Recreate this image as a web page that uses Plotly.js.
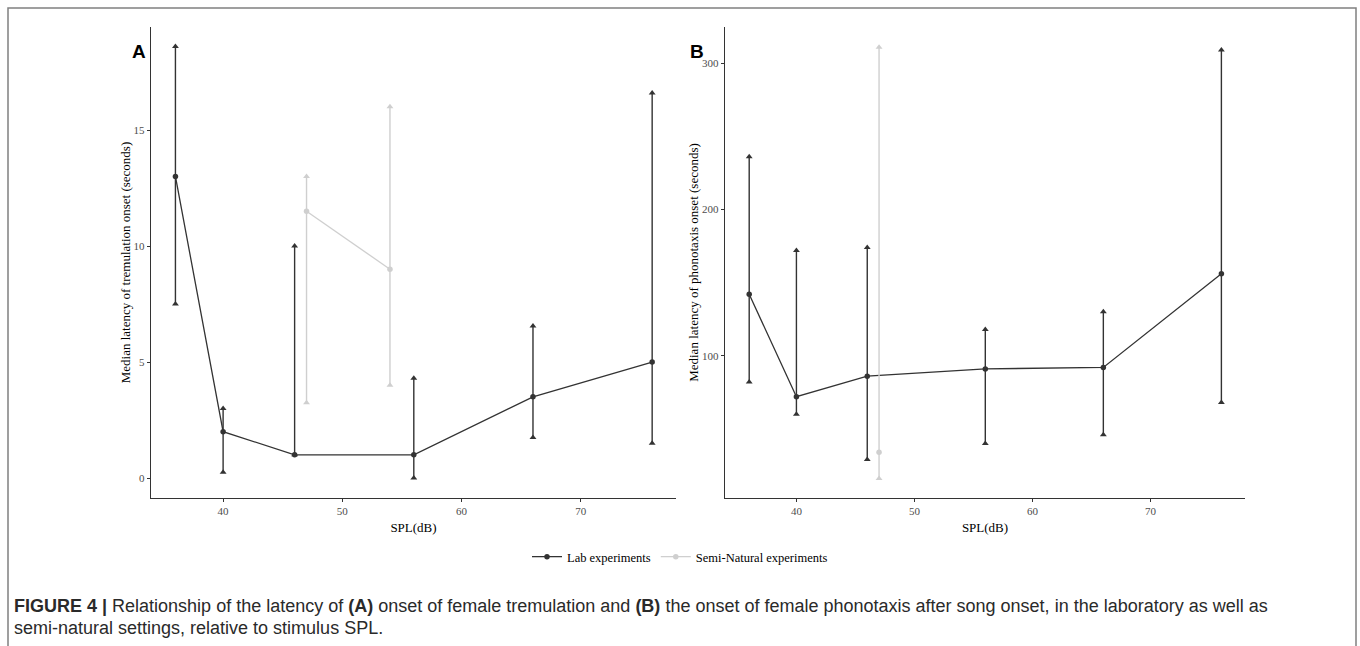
<!DOCTYPE html>
<html>
<head>
<meta charset="utf-8">
<script src="https://cdn.plot.ly/plotly-3.0.1.min.js"></script>
<style>
html,body{margin:0;padding:0;background:#fff;}
#chart{width:1360px;height:646px;}
</style>
</head>
<body>
<div id="chart"></div>
<script>
// ---- Data ----
const splLab = [36, 40, 46, 56, 66, 76];
const splSemiA = [47, 54];
const splSemiB = [47];

// Panel A: tremulation onset latency (seconds)
const tremLabMedian = [13, 2, 1, 1, 3.5, 5];
const tremLabLower  = [7.5, 0.25, 1, 0, 1.75, 1.5];
const tremLabUpper  = [18.6, 3, 10, 4.3, 6.55, 16.6];
const tremSemiMedian = [11.5, 9];
const tremSemiLower  = [3.25, 4];
const tremSemiUpper  = [13, 16];

// Panel B: phonotaxis onset latency (seconds)
const phonoLabMedian = [142, 72, 86, 91, 92, 156];
const phonoLabLower  = [82, 60, 29, 40, 46, 68];
const phonoLabUpper  = [236, 172, 174, 118, 130, 309];
const phonoSemiMedian = [34];
const phonoSemiLower  = [16];
const phonoSemiUpper  = [311];

const seriesNames = ["Lab experiments", "Semi-Natural experiments"];
const xTitle = "SPL(dB)";
const yTitleA = "Median latency of tremulation onset (seconds)";
const yTitleB = "Median latency of phonotaxis onset (seconds)";

// ---- Styles ----
const labColor = "#333333";
const semiColor = "#cfcfcf";
const serif = "Liberation Serif, Times New Roman, serif";

function diff(a, b) { return a.map((v, i) => v - b[i]); }

function seriesTraces(x, med, lo, hi, color, name, xa, ya, showLegend) {
  const caps = {
    type: "scatter", mode: "markers", xaxis: xa, yaxis: ya,
    x: x.concat(x), y: lo.concat(hi),
    marker: {symbol: "triangle-up", size: 6, color: color},
    showlegend: false, hoverinfo: "skip"
  };
  const main = {
    type: "scatter", mode: "lines+markers", xaxis: xa, yaxis: ya,
    name: name, legendgroup: name, showlegend: showLegend,
    x: x, y: med,
    line: {color: color, width: 1.3},
    marker: {symbol: "circle", size: 5.5, color: color},
    error_y: {type: "data", symmetric: false,
      array: diff(hi, med), arrayminus: diff(med, lo),
      color: color, thickness: 1.4, width: 0}
  };
  return [caps, main];
}

const data = [].concat(
  seriesTraces(splLab, tremLabMedian, tremLabLower, tremLabUpper, labColor, seriesNames[0], "x", "y", true),
  seriesTraces(splSemiA, tremSemiMedian, tremSemiLower, tremSemiUpper, semiColor, seriesNames[1], "x", "y", true),
  seriesTraces(splLab, phonoLabMedian, phonoLabLower, phonoLabUpper, labColor, seriesNames[0], "x2", "y2", false),
  seriesTraces(splSemiB, phonoSemiMedian, phonoSemiLower, phonoSemiUpper, semiColor, seriesNames[1], "x2", "y2", false)
);

const W = 1360, H = 646;
const px = v => v / W;
const py = v => 1 - v / H;

function xAxis(domain) {
  return {
    domain: domain, range: [33.95, 78.0],
    tickvals: [40, 50, 60, 70], ticks: "outside", ticklen: 3, tickcolor: "#333",
    tickfont: {family: serif, size: 11, color: "#4d4d4d"},
    showline: true, linecolor: "#333", linewidth: 1.2, showgrid: false, zeroline: false,
    title: {text: xTitle, font: {family: serif, size: 13, color: "#000"}, standoff: 6},
    fixedrange: true
  };
}
function yAxis(range, ticks, title, anchor) {
  return {
    domain: [py(498), py(27)], range: range, anchor: anchor,
    tickvals: ticks, ticks: "outside", ticklen: 3, tickcolor: "#333",
    tickfont: {family: serif, size: 11, color: "#4d4d4d"},
    showline: true, linecolor: "#333", linewidth: 1.2, showgrid: false, zeroline: false,
    title: {text: title, font: {family: serif, size: 13, color: "#000"}, standoff: 0},
    fixedrange: true
  };
}

const layout = {
  width: W, height: H,
  margin: {l: 0, r: 0, t: 0, b: 0},
  paper_bgcolor: "#fff", plot_bgcolor: "#fff",
  showlegend: true,
  legend: {orientation: "h", x: 0.5, xanchor: "center", y: py(557), yanchor: "middle",
    font: {family: serif, size: 12.5, color: "#000"}, bgcolor: "rgba(0,0,0,0)", itemwidth: 30},
  xaxis: Object.assign(xAxis([px(151), px(676)]), {anchor: "y"}),
  yaxis: yAxis([-0.86, 19.44], [0, 5, 10, 15], yTitleA, "x"),
  xaxis2: Object.assign(xAxis([px(725), px(1245)]), {anchor: "y2"}),
  yaxis2: yAxis([2.7, 324.8], [100, 200, 300], yTitleB, "x2"),
  shapes: [
    {type: "path", xref: "paper", yref: "paper",
     path: `M ${px(8)} ${py(646)} L ${px(8)} ${py(8)} L ${px(1356)} ${py(8)} L ${px(1356)} ${py(646)}`,
     line: {color: "#808080", width: 1.5}}
  ],
  annotations: [
    {xref: "paper", yref: "paper", x: px(130), y: py(39), text: "<b>A</b>", showarrow: false,
     font: {family: "Liberation Sans, Arial, sans-serif", size: 19, color: "#000"}},
    {xref: "paper", yref: "paper", x: px(697), y: py(39), text: "<b>B</b>", showarrow: false,
     font: {family: "Liberation Sans, Arial, sans-serif", size: 19, color: "#000"}},
    {xref: "paper", yref: "paper", x: px(12), y: py(606), xanchor: "left", yanchor: "middle", showarrow: false,
     text: "<b>FIGURE 4 |</b> Relationship of the latency of <b>(A)</b> onset of female tremulation and <b>(B)</b> the onset of female phonotaxis after song onset, in the laboratory as well as",
     font: {family: "Liberation Sans, Arial, sans-serif", size: 18, color: "#2a2a2a"}},
    {xref: "paper", yref: "paper", x: px(12), y: py(628), xanchor: "left", yanchor: "middle", showarrow: false,
     text: "semi-natural settings, relative to stimulus SPL.",
     font: {family: "Liberation Sans, Arial, sans-serif", size: 18, color: "#2a2a2a"}}
  ]
};

Plotly.newPlot("chart", data, layout, {displayModeBar: false, staticPlot: true});
</script>
</body>
</html>
